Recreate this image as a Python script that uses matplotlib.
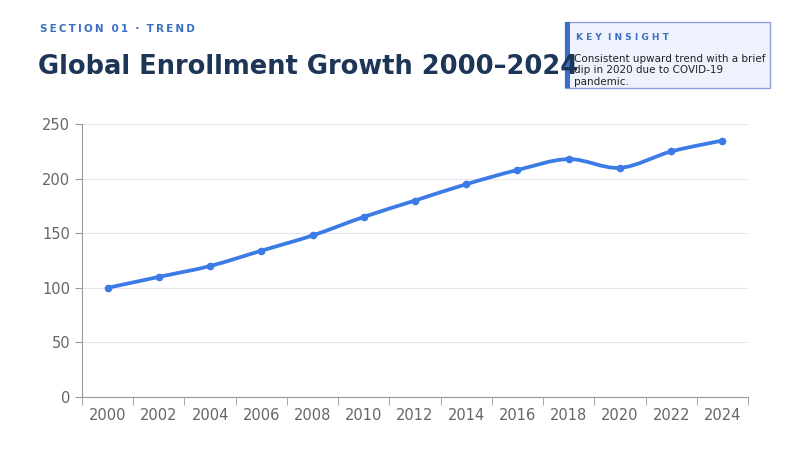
import numpy as np
import matplotlib
matplotlib.use("Agg")
import matplotlib.pyplot as plt
from matplotlib.path import Path
from matplotlib.patches import PathPatch, Rectangle

years = [2000, 2002, 2004, 2006, 2008, 2010, 2012, 2014, 2016, 2018, 2020, 2022, 2024]
enrollment = [100, 110, 120, 134, 148, 165, 180, 195, 208, 218, 210, 225, 235]

lineColor = "#3b7be6"
fig = plt.figure(figsize=(8, 4.5), dpi=100)
ax = fig.add_axes([0.1025, 0.118, 0.8325, 0.606])

# smooth curve through the points (Catmull-Rom as cubic Bezier)
x, y = np.array(years, float), np.array(enrollment, float)
verts, codes = [(x[0], y[0])], [Path.MOVETO]
t = 0.2
for i in range(len(x) - 1):
    p0 = (x[max(i-1, 0)], y[max(i-1, 0)])
    p1, p2 = (x[i], y[i]), (x[i+1], y[i+1])
    p3 = (x[min(i+2, len(x)-1)], y[min(i+2, len(x)-1)])
    c1 = (p1[0] + (p2[0]-p0[0])*t/1.2, p1[1] + (p2[1]-p0[1])*t/1.2)
    c2 = (p2[0] - (p3[0]-p1[0])*t/1.2, p2[1] - (p3[1]-p1[1])*t/1.2)
    verts += [c1, c2, p2]
    codes += [Path.CURVE4]*3
ax.add_patch(PathPatch(Path(verts, codes), fill=False, edgecolor=lineColor, lw=2.7, zorder=3))
ax.plot(years, enrollment, "o", color=lineColor, ms=4.5, zorder=4)

ax.set_xlim(1999, 2025)
ax.set_ylim(0, 250)
ax.set_xticks(years)
ax.set_xticks(np.arange(1999, 2026, 2), minor=True)
ax.tick_params(axis="x", which="major", length=0, labelsize=10.5, colors="#666666", pad=8)
ax.tick_params(axis="x", which="minor", length=6, color="#999999")
ax.set_yticks(np.arange(0, 251, 50))
ax.tick_params(axis="y", length=5, labelsize=10.5, colors="#666666", color="#999999")
ax.grid(axis="y", color="#ebe4f0", lw=0.8)
for s in ["top", "right"]:
    ax.spines[s].set_visible(False)
for s in ["left", "bottom"]:
    ax.spines[s].set_color("#999999")

fig.text(0.05, 0.928, "\u2009".join("SECTION 01") + "  \u00b7  " + "\u2009".join("TREND"),
         fontsize=7.5, color="#3b6fc4", weight="bold")
fig.text(0.048, 0.835, "Global Enrollment Growth 2000–2024", fontsize=18.5, color="#1d3557",
         weight="bold", family="DejaVu Sans")

fig.patches.append(Rectangle((0.706, 0.805), 0.257, 0.147, transform=fig.transFigure,
                             facecolor="#eef2fc", edgecolor="#8aa0d8", lw=1))
fig.patches.append(Rectangle((0.706, 0.805), 0.006, 0.147, transform=fig.transFigure,
                             facecolor="#3b6fc4", edgecolor="none"))
fig.text(0.72, 0.91, "K E Y  I N S I G H T", fontsize=6.5, color="#3b6fc4", weight="bold")
fig.text(0.718, 0.812, "Consistent upward trend with a brief\ndip in 2020 due to COVID-19\npandemic.",
         fontsize=7.5, color="#222222", linespacing=1.15)

plt.savefig("out.png", dpi=100)
